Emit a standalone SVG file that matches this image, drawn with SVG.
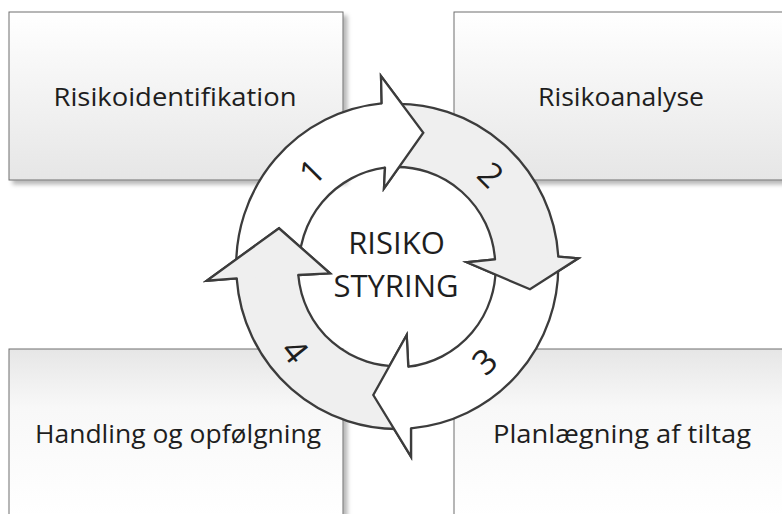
<svg xmlns="http://www.w3.org/2000/svg" width="782" height="514" viewBox="0 0 782 514">
<defs>
<linearGradient id="gTop" x1="0" y1="0" x2="0" y2="1">
<stop offset="0" stop-color="#ffffff"/>
<stop offset="1" stop-color="#e6e6e6"/>
</linearGradient>
<linearGradient id="gBot" x1="0" y1="0" x2="0" y2="1">
<stop offset="0" stop-color="#e6e6e6"/>
<stop offset="0.35" stop-color="#f8f8f8"/>
<stop offset="1" stop-color="#ffffff"/>
</linearGradient>
<filter id="sh" x="-5%" y="-5%" width="115%" height="120%">
<feDropShadow dx="4" dy="4" stdDeviation="2" flood-color="#000" flood-opacity="0.28"/>
</filter>
</defs>
<style>
.box{stroke:#6e6e6e;stroke-width:1;filter:url(#sh)}
.lbl{font-family:"Open Sans","Noto Sans","Liberation Sans",sans-serif;font-size:26px;fill:#1e1e1e;text-anchor:middle}
.ctr{font-family:"Open Sans","Noto Sans","Liberation Sans",sans-serif;font-size:31px;fill:#1e1e1e;text-anchor:middle}
.num{font-family:"Open Sans","Noto Sans","Liberation Sans",sans-serif;font-size:34px;fill:#1e1e1e;text-anchor:middle}
.arr{stroke:#3c3c3c;stroke-width:2.3;stroke-linejoin:miter}
.w{fill:#ffffff}
.g{fill:#efefef}
.hf{stroke:none}
.hl{fill:none;stroke:#3c3c3c;stroke-width:2.3;stroke-linejoin:miter;stroke-linecap:round}
</style>
<rect width="782" height="514" fill="#ffffff"/>
<g id="node-risikoidentifikation">
<rect class="box" x="9" y="12" width="334" height="168" fill="url(#gTop)"/>
<text class="lbl" x="175" y="106" textLength="243" lengthAdjust="spacingAndGlyphs">Risikoidentifikation</text>
</g>
<g id="node-risikoanalyse">
<rect class="box" x="454" y="12" width="334" height="168" fill="url(#gTop)"/>
<text class="lbl" x="621" y="106" textLength="166" lengthAdjust="spacingAndGlyphs">Risikoanalyse</text>
</g>
<g id="node-handling">
<rect class="box" x="9" y="349" width="334" height="168" fill="url(#gBot)"/>
<text class="lbl" x="178" y="443" textLength="286" lengthAdjust="spacingAndGlyphs">Handling og opfølgning</text>
</g>
<g id="node-planlaegning">
<rect class="box" x="454" y="349" width="334" height="168" fill="url(#gBot)"/>
<text class="lbl" x="622" y="443" textLength="258" lengthAdjust="spacingAndGlyphs">Planlægning af tiltag</text>
</g>
<g id="connectors">
<path id="arrow-1" class="arr w" d="M 236.45 273.59 A 161 162.5 0 0 1 381.7 103.3 L 381 76 L 423.3 132.7 L 384 188.3 L 385 167.7 A 98.3 99.5 0 0 0 299.09 270.84 Z"/>
<path id="arrow-2" class="arr g" d="M 387.47 104.30 A 161 162.5 0 0 1 558.3 256.7 L 578.3 258.3 L 530 289.3 L 466.7 262.3 L 495 259.3 A 98.3 99.5 0 0 0 391.30 167.19 Z"/>
<path id="arrow-3" class="arr w" d="M 558.23 261.68 A 161 162.5 0 0 1 411 428.3 L 411 456.7 L 373.3 395 L 406.7 335 L 408.3 366.7 A 98.3 99.5 0 0 0 495.56 263.55 Z"/>
<path id="arrow-4" class="arr g" d="M 407.13 428.70 A 161 162.5 0 0 1 236.7 278.3 L 206.7 280.7 L 279 228.3 L 330 273.3 L 298.3 275 A 98.3 99.5 0 0 0 403.30 365.81 Z"/>
<polygon class="hf w" points="381.7,103.3 381,76 423.3,132.7 384,188.3 385,167.7"/>
<polyline class="hl" points="381.7,103.3 381,76 423.3,132.7 384,188.3 385,167.7"/>
<polygon class="hf g" points="558.3,256.7 578.3,258.3 530,289.3 466.7,262.3 495,259.3"/>
<polyline class="hl" points="558.3,256.7 578.3,258.3 530,289.3 466.7,262.3 495,259.3"/>
<polygon class="hf w" points="411,428.3 411,456.7 373.3,395 406.7,335 408.3,366.7"/>
<polyline class="hl" points="411,428.3 411,456.7 373.3,395 406.7,335 408.3,366.7"/>
<polygon class="hf g" points="236.7,278.3 206.7,280.7 279,228.3 330,273.3 298.3,275"/>
<polyline class="hl" points="236.7,278.3 206.7,280.7 279,228.3 330,273.3 298.3,275"/>
<text class="num" transform="translate(312 172) rotate(-45)" y="12">1</text>
<text class="num" transform="translate(490.5 175) rotate(45)" y="12">2</text>
<text class="num" transform="translate(484.7 361.7) rotate(-42)" y="12">3</text>
<text class="num" transform="translate(295 351) rotate(51)" y="12">4</text>
</g>
<g id="node-center">
<text class="ctr" x="396.5" y="254.3">RISIKO</text>
<text class="ctr" x="396" y="296.7">STYRING</text>
</g>
</svg>
